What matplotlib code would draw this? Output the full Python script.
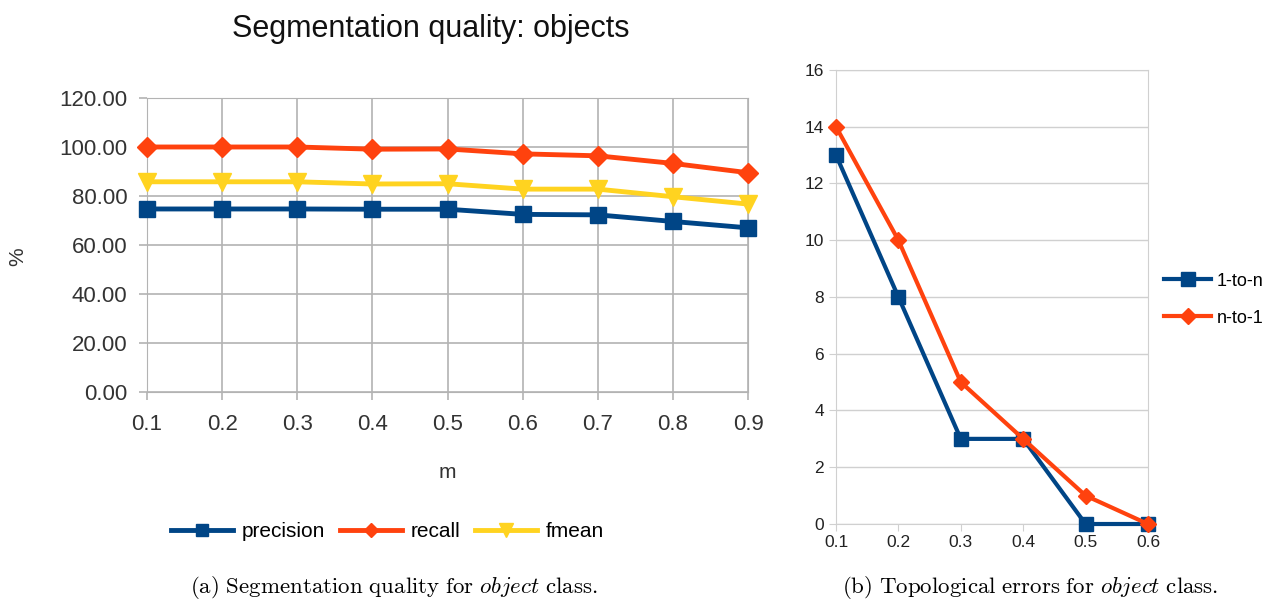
import numpy as np
import matplotlib
matplotlib.use('Agg')
import matplotlib.pyplot as plt

plt.rcParams['font.family'] = ['Liberation Sans', 'DejaVu Sans']
plt.rcParams['mathtext.fontset'] = 'cm'

# data
m_left = [0.1, 0.2, 0.3, 0.4, 0.5, 0.6, 0.7, 0.8, 0.9]
precision = [74.7, 74.7, 74.7, 74.6, 74.6, 72.5, 72.3, 69.6, 67.0]
recall = [100.0, 100.0, 100.0, 99.1, 99.2, 97.2, 96.4, 93.3, 89.5]
fmean = [85.8, 85.8, 85.8, 84.9, 85.0, 82.8, 82.8, 79.7, 76.7]

m_right = [0.1, 0.2, 0.3, 0.4, 0.5, 0.6]
one_to_n = [13, 8, 3, 3, 0, 0]
n_to_one = [14, 10, 5, 3, 1, 0]

blue = '#004586'
orange = '#ff420e'
yellow = '#ffd320'

fig = plt.figure(figsize=(12.64, 5.99), dpi=100)

# ---------------- left chart ----------------
ax1 = fig.add_axes([0.1163, 0.3456, 0.4755, 0.4908])
ax1.plot(m_left, precision, '-s', color=blue, lw=3.5, ms=12, label='precision', clip_on=False, zorder=5)
ax1.plot(m_left, recall, '-D', color=orange, lw=3.5, ms=10, label='recall', clip_on=False, zorder=5)
ax1.plot(m_left, fmean, '-v', color=yellow, lw=3.5, ms=13, label='fmean', clip_on=False, zorder=5)
ax1.set_xlim(0.1, 0.9)
ax1.set_ylim(0, 120)
ax1.set_xticks(m_left)
ax1.set_xticklabels(['%.1f' % v for v in m_left])
ax1.set_yticks(np.arange(0, 121, 20))
ax1.set_yticklabels(['%.2f' % v for v in np.arange(0, 121, 20)])
ax1.grid(True, color='#b3b3b3', lw=1.2)
for s in ax1.spines.values():
    s.set_color('#b3b3b3')
ax1.tick_params(colors='#b3b3b3', labelcolor='#333333', labelsize=16, length=6, width=1.2)
ax1.tick_params(axis='x', pad=10)
ax1.tick_params(axis='y', pad=8)
ax1.set_axisbelow(True)
ax1.set_title('Segmentation quality: objects', fontsize=22, color='#111111', pad=44, x=0.472)
ax1.set_xlabel('m', fontsize=15, color='#333333', labelpad=20)
ax1.set_ylabel('%', fontsize=15, color='#333333')
ax1.yaxis.set_label_coords(-0.20, 0.46)
ax1.legend(loc='upper center', bbox_to_anchor=(0.4, -0.38), ncol=3, frameon=False,
           fontsize=15, handlelength=3.0, columnspacing=0.7, handletextpad=0.4,
           markerscale=0.75)

# ---------------- right chart ----------------
ax2 = fig.add_axes([0.6614, 0.1252, 0.2468, 0.758])
ax2.plot(m_right, one_to_n, '-s', color=blue, lw=3, ms=10, label='1-to-n', clip_on=False, zorder=5)
ax2.plot(m_right, n_to_one, '-D', color=orange, lw=3, ms=8, label='n-to-1', clip_on=False, zorder=5)
ax2.set_xlim(0.1, 0.6)
ax2.set_ylim(0, 16)
ax2.set_xticks(m_right)
ax2.set_xticklabels(['%.1f' % v for v in m_right])
ax2.set_yticks(np.arange(0, 17, 2))
ax2.grid(True, axis='y', color='#d0d0d0', lw=1.0)
for s in ax2.spines.values():
    s.set_color('#d0d0d0')
ax2.tick_params(colors='#d0d0d0', labelcolor='#222222', labelsize=12.5, length=5)
ax2.tick_params(axis='x', pad=3)
ax2.set_axisbelow(True)
ax2.legend(loc='center left', bbox_to_anchor=(1.0, 0.494), frameon=False,
           fontsize=13, handlelength=2.6, handletextpad=0.3, labelspacing=1.1)

# captions
fig.text(0.312, 0.02, r'$\mathrm{(a)\ Segmentation\ quality\ for\ }\mathit{object}\mathrm{\ class.}$',
         ha='center', va='center', fontsize=16.5)
fig.text(0.815, 0.02, r'$\mathrm{(b)\ Topological\ errors\ for\ }\mathit{object}\mathrm{\ class.}$',
         ha='center', va='center', fontsize=16.5)

fig.savefig('out.png', dpi=100)
